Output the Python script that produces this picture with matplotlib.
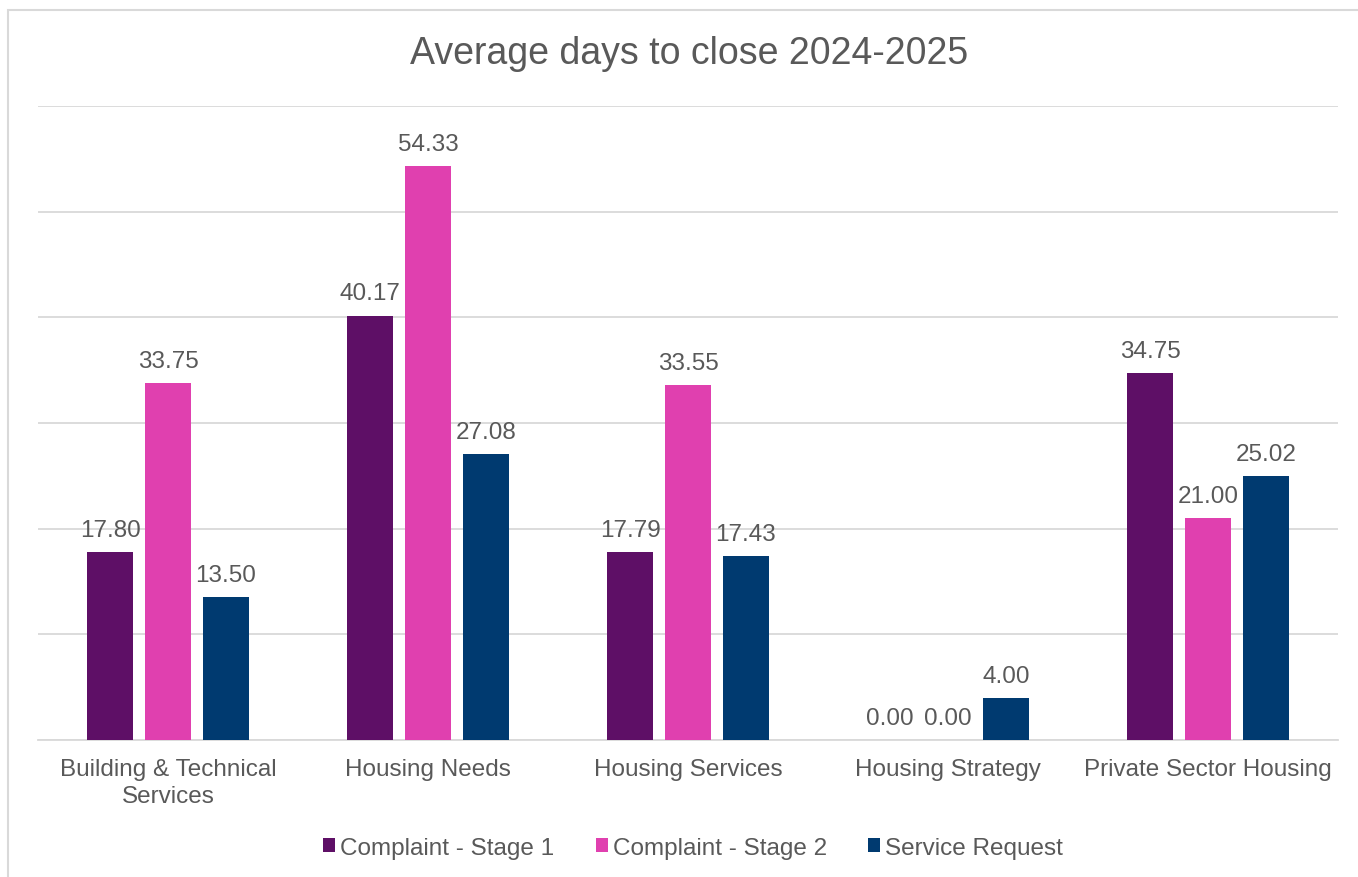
import numpy as np
import matplotlib.pyplot as plt
from matplotlib.patches import Rectangle

plt.rcParams['font.family'] = ['Liberation Sans', 'DejaVu Sans']

# average days to close, per team and request type
teams = ['Building & Technical\nServices', 'Housing Needs', 'Housing Services',
         'Housing Strategy', 'Private Sector Housing']
stage1 = [17.80, 40.17, 17.79, 0.00, 34.75]
stage2 = [33.75, 54.33, 33.55, 0.00, 21.00]
service = [13.50, 27.08, 17.43, 4.00, 25.02]

series = [('Complaint - Stage 1', stage1, '#5E0F66'),
          ('Complaint - Stage 2', stage2, '#E040AF'),
          ('Service Request', service, '#003A70')]

txt = '#595959'
grid = '#D9D9D9'
fs = 17.5

fig = plt.figure(figsize=(13.58, 8.78), dpi=100)
ax = fig.add_axes([38/1358, 1-741/878, 1300/1358, 634/878])

# outer chart border (only left and top edges fall inside the image)
fig.patches.append(Rectangle((8/1358, -0.1), 1.2, 1.1 - 11/878,
                             transform=fig.transFigure, fill=False,
                             edgecolor=grid, linewidth=1.5))

x = np.arange(len(teams))
width = 0.177
step = 0.223
for i, (name, vals, col) in enumerate(series):
    bars = ax.bar(x + (i - 1) * step, vals, width, color=col, label=name, zorder=3)
    ax.bar_label(bars, labels=['%.2f' % v for v in vals], padding=8,
                 fontsize=fs, color=txt)

ax.set_xlim(-0.5, len(teams) - 0.5)
ax.set_ylim(0, 60)
ax.set_yticks(np.arange(0, 61, 10))
ax.yaxis.grid(True, color=grid, linewidth=1.3, zorder=0)
ax.tick_params(axis='y', left=False, labelleft=False)
ax.tick_params(axis='x', length=0, pad=13, labelsize=fs, labelcolor=txt)
ax.set_xticks(x, teams, linespacing=1.3)
for s in ['top', 'right', 'left']:
    ax.spines[s].set_visible(False)
ax.spines['bottom'].set_color(grid)
ax.spines['bottom'].set_linewidth(1.3)

fig.text(689/1358, 1-54/878, 'Average days to close 2024-2025', ha='center',
         va='center', fontsize=27, color=txt)

fig.legend(loc='center', bbox_to_anchor=(693/1358, 1-849/878), ncol=3,
           frameon=False, fontsize=fs, labelcolor=txt, handlelength=0.5,
           handleheight=0.5, handletextpad=0.2, columnspacing=1.7)

fig.savefig('out.png', dpi=100)
